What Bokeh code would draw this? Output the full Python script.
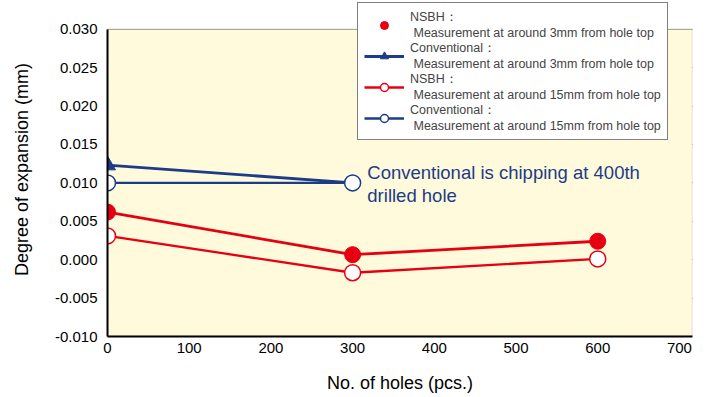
from bokeh.plotting import figure
from bokeh.models import (Legend, LegendItem, Label, NumeralTickFormatter,
                          FixedTicker, Range1d, BoxAnnotation)
from bokeh.embed import file_html
from bokeh.resources import INLINE

# ---- data ----
holes_nsbh = [0, 300, 600]
nsbh_3mm = [0.0062, 0.00065, 0.0024]
nsbh_15mm = [0.0031, -0.0017, 0.0001]
holes_conv = [0, 300]
conv_3mm = [0.0123, 0.0100]
conv_15mm = [0.0100, 0.0100]

x_ticks = [0, 100, 200, 300, 400, 500, 600, 700]
y_ticks = [-0.010, -0.005, 0.000, 0.005, 0.010, 0.015, 0.020, 0.025, 0.030]
y_min, y_max = -0.010, 0.030

labels = [
    "NSBH\uff1a\n\u00a0Measurement at around 3mm from hole top",
    "Conventional\uff1a\n\u00a0Measurement at around 3mm from hole top",
    "NSBH\uff1a\n\u00a0Measurement at around 15mm from hole top",
    "Conventional\uff1a\n\u00a0Measurement at around 15mm from hole top",
]
note = "Conventional is chipping at 400th\ndrilled hole"

RED = "#E60012"
NAVY = "#1B3C87"
FONT = "Liberation Sans"

# plot area: 310 px for the 0.040 span, plus 27 px headroom for the legend
top_pad = 27 * (y_max - y_min) / 310

p = figure(width=698, height=395, output_backend="svg", toolbar_location=None,
           x_range=Range1d(0, 716), y_range=Range1d(y_min, y_max + top_pad),
           min_border_left=107, min_border_top=2, min_border_right=6,
           min_border_bottom=56)
p.border_fill_color = "white"
p.background_fill_color = "white"
p.outline_line_color = None

p.add_layout(BoxAnnotation(bottom=y_min, top=y_max, left=0, right=716,
                           fill_color="#FFFADB", fill_alpha=1,
                           line_color="#7F7F7F", line_width=1.5,
                           level="underlay"))

p.xgrid.grid_line_color = None
p.ygrid.grid_line_color = "black"
p.ygrid.grid_line_width = 1
p.xaxis.ticker = FixedTicker(ticks=x_ticks)
p.yaxis.ticker = FixedTicker(ticks=y_ticks)
p.yaxis.bounds = (y_min, y_max)
p.yaxis.formatter = NumeralTickFormatter(format="0.000")
for ax in (p.xaxis, p.yaxis):
    ax.axis_line_color = "black"
    ax.axis_line_width = 2
    ax.major_tick_in = 0
    ax.major_tick_out = 0
    ax.minor_tick_line_color = None
    ax.major_label_text_font = FONT
    ax.major_label_text_font_size = "15px"
    ax.major_label_text_color = "black"
    ax.axis_label_text_font = FONT
    ax.axis_label_text_font_size = "18px"
    ax.axis_label_text_font_style = "normal"
    ax.axis_label_text_color = "black"
p.xaxis.axis_label = "No. of holes (pcs.)"
p.yaxis.axis_label = "Degree of expansion (mm)"
p.xaxis.major_label_standoff = 6
p.yaxis.major_label_standoff = 10
p.xaxis.axis_label_standoff = 17
p.yaxis.axis_label_standoff = 20

# navy series
l2 = p.line(holes_conv, conv_3mm, line_color=NAVY, line_width=2.8)
m2 = p.scatter(holes_conv[:1], conv_3mm[:1], marker="triangle", size=16,
               fill_color=NAVY, line_color=NAVY)
l4 = p.line(holes_conv, conv_15mm, line_color=NAVY, line_width=2.3)
m4 = p.scatter(holes_conv, conv_15mm, marker="circle", size=16,
               fill_color="white", line_color=NAVY, line_width=1.5)
# red series
l1 = p.line(holes_nsbh, nsbh_3mm, line_color=RED, line_width=2.8)
m1 = p.scatter(holes_nsbh, nsbh_3mm, marker="circle", size=16,
               fill_color=RED, line_color=RED)
l3 = p.line(holes_nsbh, nsbh_15mm, line_color=RED, line_width=2.3)
m3 = p.scatter(holes_nsbh, nsbh_15mm, marker="circle", size=16,
               fill_color="white", line_color=RED, line_width=1.5)

p.add_layout(Label(x=318, y=0.0127, text=note, text_font=FONT,
                   text_font_size="18.5px", text_color=NAVY,
                   text_baseline="top", text_line_height=1.08))

legend = Legend(items=[
    LegendItem(label=labels[0], renderers=[m1]),
    LegendItem(label=labels[1], renderers=[l2, m2]),
    LegendItem(label=labels[2], renderers=[l3, m3]),
    LegendItem(label=labels[3], renderers=[l4, m4]),
], location=(250, 196))
legend.label_text_font = FONT
legend.label_text_font_size = "12.5px"
legend.label_text_line_height = 0.75
legend.label_height = 24
legend.border_line_color = "black"
legend.border_line_width = 1
legend.background_fill_color = "white"
legend.background_fill_alpha = 1
legend.glyph_width = 40
legend.label_standoff = 6
legend.padding = 6
legend.spacing = 0
legend.margin = 0
p.add_layout(legend, "center")

open("out.html", "w").write(file_html(p, INLINE))
